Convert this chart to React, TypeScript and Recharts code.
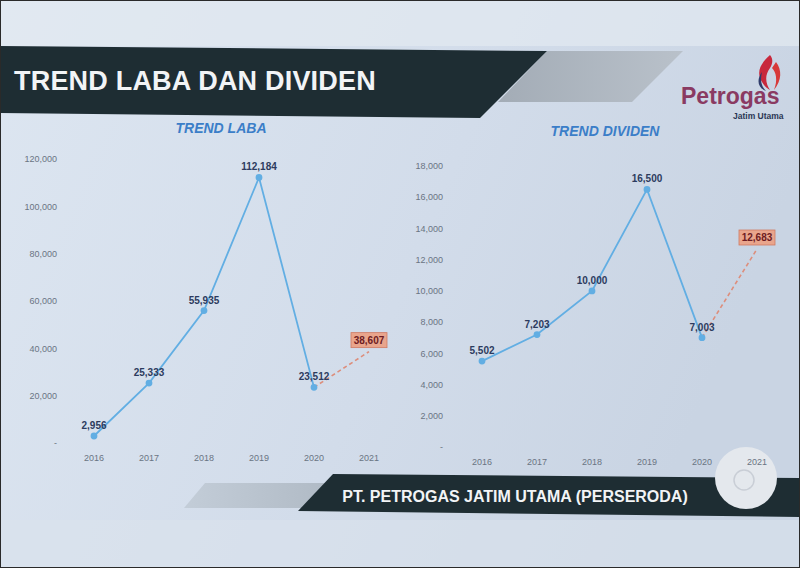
import React from 'react';
import { LabelList, Line, LineChart, XAxis, YAxis } from 'recharts';

const years = ['2016', '2017', '2018', '2019', '2020', '2021'];

const labaActual = [2956, 25333, 55935, 112184, 23512, null];
const labaForecast = [null, null, null, null, 23512, 38607];
const labaTicks = [0, 20000, 40000, 60000, 80000, 100000, 120000];

const dividenActual = [5502, 7203, 10000, 16500, 7003, null];
const dividenForecast = [null, null, null, null, 7003, 12683];
const dividenTicks = [0, 2000, 4000, 6000, 8000, 10000, 12000, 14000, 16000, 18000];

const labaData = years.map((year, i) => ({ year, actual: labaActual[i], forecast: labaForecast[i] }));
const dividenData = years.map((year, i) => ({ year, actual: dividenActual[i], forecast: dividenForecast[i] }));

const FONT = '"Liberation Sans", Arial, sans-serif';
const LINE_BLUE = '#62aee3';
const DASH = '#dd8e7c';

const fmt = (v: number) => (v === 0 ? '-' : v.toLocaleString('en-US'));

const ValueLabel = (props: any) => {
  const { x, y, value } = props;
  if (value == null) return null;
  return (
    <text x={x} y={y - 7} textAnchor="middle" fontSize={10} fontWeight={700} fill="#2c3b5e" fontFamily={FONT}>
      {fmt(value)}
    </text>
  );
};

const ForecastLabel = (props: any) => {
  const { x, y, value, index } = props;
  if (value == null || index !== years.length - 1) return null;
  return (
    <g>
      <rect x={x - 18} y={y - 19} width={36} height={15} fill="#e9a58c" stroke="#cf7a62" strokeWidth={0.8} />
      <text x={x} y={y - 8} textAnchor="middle" fontSize={10} fontWeight={700} fill="#6e1c22" fontFamily={FONT}>
        {fmt(value)}
      </text>
    </g>
  );
};

const TrendChart = ({ data, ticks, max, width, height, margin, yWidth, pad }: any) => (
  <LineChart width={width} height={height} data={data} margin={margin}>
    <XAxis
      dataKey="year"
      interval={0}
      axisLine={false}
      tickLine={false}
      tickMargin={6}
      padding={{ left: pad, right: pad }}
      tick={{ fontSize: 9, fill: '#6a7483', fontFamily: FONT }}
    />
    <YAxis
      width={yWidth}
      domain={[0, max]}
      ticks={ticks}
      axisLine={false}
      tickLine={false}
      tickFormatter={fmt}
      tick={{ fontSize: 9, fill: '#6a7483', fontFamily: FONT }}
    />
    <Line
      dataKey="forecast"
      stroke={DASH}
      strokeWidth={1.6}
      strokeDasharray="4 3"
      dot={false}
      isAnimationActive={false}
    >
      <LabelList dataKey="forecast" content={ForecastLabel} />
    </Line>
    <Line
      dataKey="actual"
      stroke={LINE_BLUE}
      strokeWidth={1.8}
      dot={{ r: 2.5, fill: LINE_BLUE, stroke: LINE_BLUE }}
      isAnimationActive={false}
    >
      <LabelList dataKey="actual" content={ValueLabel} />
    </Line>
  </LineChart>
);

export default function App() {
  return (
    <div style={{ position: 'absolute', left: 0, top: 0, width: 800, height: 568, overflow: 'hidden', fontFamily: FONT }}>
      <svg width={800} height={568} style={{ position: 'absolute', left: 0, top: 0 }}>
        <defs>
          <linearGradient id="bg" x1="0" y1="0" x2="1" y2="0.3">
            <stop offset="0" stopColor="#dde6f1" />
            <stop offset="0.6" stopColor="#d2dcea" />
            <stop offset="1" stopColor="#c9d4e3" />
          </linearGradient>
          <linearGradient id="grayBand" x1="0" y1="0" x2="1" y2="0">
            <stop offset="0" stopColor="#a3acb6" />
            <stop offset="1" stopColor="#b9c1ca" />
          </linearGradient>
          <linearGradient id="grayFoot" x1="0" y1="0" x2="1" y2="0">
            <stop offset="0" stopColor="#c3cdd8" />
            <stop offset="1" stopColor="#aeb8c3" />
          </linearGradient>
        </defs>
        <rect x={0} y={0} width={800} height={568} fill="url(#bg)" />
        <rect x={0} y={0} width={800} height={46} fill="#e3e9f1" opacity={0.7} />
        <rect x={0} y={520} width={800} height={48} fill="#dbe3ed" opacity={0.6} />

        {/* header */}
        <polygon points="547,51 683,51 632,102 498,102" fill="url(#grayBand)" />
        <polygon points="0,46 547,51 480,118 0,113" fill="#1e2d33" />
        <text x={14} y={90} fontSize={27} fontWeight={700} fill="#f2f4f6" fontFamily={FONT} letterSpacing={0.2}>
          TREND LABA DAN DIVIDEN
        </text>

        {/* logo */}
        <path d="M770,55 C760,64 756,72 762,82 C765,87 768,89 770,90 C766,84 764,76 770,68 C772,64 774,60 770,55 Z" fill="#c8283c" />
        <path d="M776,62 C782,70 782,80 774,90 C778,80 776,72 772,68 Z" fill="#d73a3a" />
        <path d="M762,72 C756,80 758,88 766,91 C761,86 760,80 762,72 Z" fill="#2f3b6a" />
        <text x={681} y={104} fontSize={23} fontWeight={700} fill="#8a3a62" fontFamily={FONT}>
          Petrogas
        </text>
        <text x={733} y={119} fontSize={8.5} fontWeight={700} fill="#2a3654" fontFamily={FONT}>
          Jatim Utama
        </text>

        {/* chart titles */}
        <text x={221} y={133} textAnchor="middle" fontSize={14} fontWeight={700} fontStyle="italic" fill="#3b7ec8" fontFamily={FONT}>
          TREND LABA
        </text>
        <text x={605} y={136} textAnchor="middle" fontSize={14} fontWeight={700} fontStyle="italic" fill="#3b7ec8" fontFamily={FONT}>
          TREND DIVIDEN
        </text>

        {/* footer */}
        <polygon points="205,483 345,483 325,508 184,508" fill="url(#grayFoot)" />
        <polygon points="333,474 800,478 800,517 298,511" fill="#1e2d33" />
        <text x={515} y={502} textAnchor="middle" fontSize={16} fontWeight={700} fill="#f2f4f6" fontFamily={FONT}>
          PT. PETROGAS JATIM UTAMA (PERSERODA)
        </text>
        <circle cx={746} cy={478} r={31} fill="#e4e8ed" />
        <circle cx={744} cy={480} r={10} fill="none" stroke="#c9ced6" strokeWidth={1.5} />

        <rect x={0.5} y={0.5} width={799} height={567} fill="none" stroke="#2a2a2a" strokeWidth={1} />
      </svg>

      <div style={{ position: 'absolute', left: 0, top: 140 }}>
        <TrendChart
          data={labaData}
          ticks={labaTicks}
          max={120000}
          width={410}
          height={340}
          margin={{ top: 19, right: 12, bottom: 7, left: 0 }}
          yWidth={65}
          pad={29}
        />
      </div>
      <div style={{ position: 'absolute', left: 400, top: 140 }}>
        <TrendChart
          data={dividenData}
          ticks={dividenTicks}
          max={18000}
          width={400}
          height={350}
          margin={{ top: 26, right: 12, bottom: 13, left: 0 }}
          yWidth={51}
          pad={31}
        />
      </div>
    </div>
  );
}
